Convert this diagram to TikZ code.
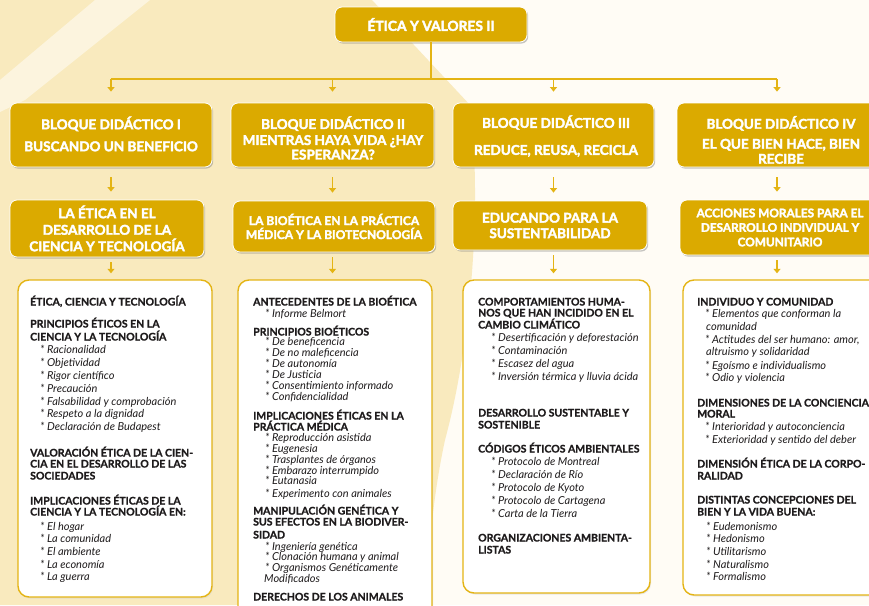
\documentclass[tikz,border=0pt]{standalone}
\usepackage{fontspec}
\setmainfont{Lato}
\newfontfamily\heavyfont{Lato}[BoldFeatures={FakeBold=2.6}]
\newfontfamily\headfont{Lato}[BoldFeatures={FakeBold=1.0}]
\usetikzlibrary{shadows,arrows.meta}
\definecolor{gold}{RGB}{219,170,0}
\definecolor{goldline}{RGB}{228,180,20}
\definecolor{beige}{RGB}{249,234,190}
\definecolor{cream}{RGB}{255,252,245}
\definecolor{ink}{RGB}{30,27,28}
\tikzset{
  goldbox/.style={draw=white, line width=0.8pt, fill=gold, rounded corners=7pt, text=white,
    align=center, inner sep=2pt,
    drop shadow={shadow xshift=1.2pt, shadow yshift=-1.6pt, fill=black!50, opacity=0.45}},
  goldtext/.style={text=white, align=center, inner sep=0pt},
  whitebox/.style={draw=goldline, line width=1.4pt, fill=white, rounded corners=11pt,
    drop shadow={shadow xshift=1pt, shadow yshift=-1.5pt, fill=black!20, opacity=0.4}},
  conn/.style={draw=goldline, line width=1.1pt},
  arr/.style={conn, -{Triangle[length=4.5pt,width=7pt]}},
  hd/.style={anchor=base west, inner sep=0pt, yshift=-3.5pt, text=ink,
    font=\headfont\bfseries\fontsize{10.5}{12}\selectfont},
  it/.style={anchor=base west, inner sep=0pt, yshift=-3.5pt, text=ink,
    font=\itshape\fontsize{11}{12}\selectfont},
  rowa/.style={font=\heavyfont\bfseries\fontsize{13.5}{16}\selectfont},
}
\begin{document}
\begin{tikzpicture}[x=1pt,y=-1pt]
\useasboundingbox (0,0) rectangle (869,605);
% background
\fill[cream] (0,0) rectangle (869,605);
\fill[beige] (0,0) -- (372,0) -- (470,105) .. controls (482,200) and (472,340) .. (445,440)
  .. controls (432,500) and (428,560) .. (425,605) -- (0,605) -- cycle;
\fill[white, opacity=0.5] (95,0) -- (150,0) -- (25,100) -- (0,112) -- (0,80) -- cycle;

% title
\node[goldbox, minimum width=192pt, minimum height=35pt,
  font=\heavyfont\bfseries\fontsize{13.8}{16}\selectfont] (title) at (431,24.5) {ÉTICA Y VALORES II};

% row 1
\node[goldbox, minimum width=202pt, minimum height=64pt] (b1) at (111,135) {};
\node[goldtext, rowa] (b1t) at (111,134) {BLOQUE DIDÁCTICO I\\[6pt]BUSCANDO UN BENEFICIO};
\node[goldbox, minimum width=203pt, minimum height=64pt] (b2) at (332.5,135) {};
\node[goldtext, rowa] (b2t) at (333,138) {BLOQUE DIDÁCTICO II\\[0pt]MIENTRAS HAYA VIDA ¿HAY\\[-1.5pt]ESPERANZA?};
\node[goldbox, minimum width=201pt, minimum height=64pt] (b3) at (553.5,135) {};
\node[goldtext, rowa] (b3t) at (556,136) {BLOQUE DIDÁCTICO III\\[11pt]REDUCE, REUSA, RECICLA};
\node[goldbox, minimum width=200pt, minimum height=64pt] (b4) at (777,135) {};
\node[goldtext, rowa] (b4t) at (781,140) {BLOQUE DIDÁCTICO IV\\[4pt]EL QUE BIEN HACE, BIEN\\[-1pt]RECIBE};

% row 2
\node[goldbox, font=\heavyfont\bfseries\fontsize{13.5}{16.5}\selectfont, minimum width=194pt, minimum height=57pt] (c1) at (107,228.5)
  {LA ÉTICA EN EL\\DESARROLLO DE LA\\CIENCIA Y TECNOLOGÍA};
\node[goldbox, font=\heavyfont\bfseries\fontsize{12}{14}\selectfont, minimum width=202pt, minimum height=51pt] (c2) at (334,226.5)
  {LA BIOÉTICA EN LA PRÁCTICA\\MÉDICA Y LA BIOTECNOLOGÍA};
\node[goldbox, font=\heavyfont\bfseries\fontsize{13.5}{15.5}\selectfont, minimum width=194pt, minimum height=49pt] (c3) at (550,225.5)
  {EDUCANDO PARA LA\\SUSTENTABILIDAD};
\node[goldbox, font=\heavyfont\bfseries\fontsize{11.8}{14.5}\selectfont, minimum width=200pt, minimum height=55pt] (c4) at (780,227.5)
  {ACCIONES MORALES PARA EL\\DESARROLLO INDIVIDUAL Y\\COMUNITARIO};

% content boxes
\node[whitebox, minimum width=194pt, minimum height=317pt] (d1) at (115,438.5) {};
\node[whitebox, minimum width=194pt, minimum height=340pt] (d2) at (335,450) {};
\node[whitebox, minimum width=187pt, minimum height=313pt] (d3) at (556.5,436.5) {};
\node[whitebox, minimum width=202pt, minimum height=315pt] (d4) at (784,437.5) {};

% connectors
\coordinate (hub) at (431,79);
\coordinate (hl) at (111,79);
\coordinate (hr) at (777,79);
\draw[conn] (title.south) -- (hub);
\draw[conn] (hl) -- (hr);
\foreach \b in {b1,b2,b3,b4}{
  \draw[arr, shorten >=11pt] (hub -| \b.north) -- (\b.north);
}
\foreach \b/\c/\d in {b1/c1/d1,b2/c2/d2,b3/c3/d3,b4/c4/d4}{
  \draw[arr, shorten <=10pt, shorten >=8pt] (\b.south) -- (\b.south |- \c.north);
  \draw[arr, shorten <=5pt, shorten >=6pt] (\b.south |- \c.south) -- (\b.south |- \d.north);
}

% texts box 1
\foreach \x/\y/\s/\t [count=\n] in {
 30/302/hd/{ÉTICA, CIENCIA Y TECNOLOGÍA},
 30/324/hd/{PRINCIPIOS ÉTICOS EN LA},
 30/337/hd/{CIENCIA Y LA TECNOLOGÍA},
 40/350/it/{* Racionalidad},
 40/363/it/{* Objetividad},
 40/376/it/{* Rigor científico},
 40/389/it/{* Precaución},
 40/402/it/{* Falsabilidad y comprobación},
 40/414/it/{* Respeto a la dignidad},
 40/427/it/{* Declaración de Budapest},
 30/453/hd/{VALORACIÓN ÉTICA DE LA CIEN-},
 30/464/hd/{CIA EN EL DESARROLLO DE LAS},
 30/476/hd/{SOCIEDADES},
 30/501/hd/{IMPLICACIONES ÉTICAS DE LA},
 30/512/hd/{CIENCIA Y LA TECNOLOGÍA EN:},
 40/527/it/{* El hogar},
 40/539/it/{* La comunidad},
 40/552/it/{* El ambiente},
 40/565/it/{* La economía},
 40/577/it/{* La guerra}}
 { \node[\s] (ta\n) at (\x,\y) {\t}; }

% texts box 2
\foreach \x/\y/\s/\t [count=\n] in {
 253/302/hd/{ANTECEDENTES DE LA BIOÉTICA},
 265/314/it/{* Informe Belmort},
 253/332/hd/{PRINCIPIOS BIOÉTICOS},
 265/342/it/{* De beneficencia},
 265/353/it/{* De no maleficencia},
 265/364/it/{* De autonomía},
 265/375/it/{* De Justicia},
 265/386/it/{* Consentimiento informado},
 265/397/it/{* Confidencialidad},
 253/416/hd/{IMPLICACIONES ÉTICAS EN LA},
 253/427/hd/{PRÁCTICA MÉDICA},
 265/438/it/{* Reproducción asistida},
 265/449/it/{* Eugenesia},
 265/460/it/{* Trasplantes de órganos},
 265/471/it/{* Embarazo interrumpido},
 265/481/it/{* Eutanasia},
 265/494/it/{* Experimento con animales},
 253/511/hd/{MANIPULACIÓN GENÉTICA Y},
 253/522/hd/{SUS EFECTOS EN LA BIODIVER-},
 253/535/hd/{SIDAD},
 265/547/it/{* Ingeniería genética},
 265/557/it/{* Clonación humana y animal},
 265/568/it/{* Organismos Genéticamente},
 264/579/it/{Modificados},
 253/597/hd/{DERECHOS DE LOS ANIMALES}}
 { \node[\s] (tb\n) at (\x,\y) {\t}; }

% texts box 3
\foreach \x/\y/\s/\t [count=\n] in {
 478/302/hd/{COMPORTAMIENTOS HUMA-},
 478/313/hd/{NOS QUE HAN INCIDIDO EN EL},
 478/325/hd/{CAMBIO CLIMÁTICO},
 491/338/it/{* Desertificación y deforestación},
 491/351/it/{* Contaminación},
 491/364/it/{* Escasez del agua},
 491/377/it/{* Inversión térmica y lluvia ácida},
 478/413/hd/{DESARROLLO SUSTENTABLE Y},
 478/425/hd/{SOSTENIBLE},
 478/449/hd/{CÓDIGOS ÉTICOS AMBIENTALES},
 491/462/it/{* Protocolo de Montreal},
 491/475/it/{* Declaración de Río},
 491/488/it/{* Protocolo de Kyoto},
 491/501/it/{* Protocolo de Cartagena},
 491/514/it/{* Carta de la Tierra},
 478/538/hd/{ORGANIZACIONES AMBIENTA-},
 478/550/hd/{LISTAS}}
 { \node[\s] (tc\n) at (\x,\y) {\t}; }

% texts box 4
\foreach \x/\y/\s/\t [count=\n] in {
 697/302/hd/{INDIVIDUO Y COMUNIDAD},
 705/314/it/{* Elementos que conforman la},
 706/327/it/{comunidad},
 705/340/it/{* Actitudes del ser humano: amor,},
 706/352/it/{altruismo y solidaridad},
 705/366/it/{* Egoísmo e individualismo},
 705/378/it/{* Odio y violencia},
 697/403/hd/{DIMENSIONES DE LA CONCIENCIA},
 697/414/hd/{MORAL},
 705/427/it/{* Interioridad y autoconciencia},
 705/440/it/{* Exterioridad y sentido del deber},
 697/464/hd/{DIMENSIÓN ÉTICA DE LA CORPO-},
 697/476/hd/{RALIDAD},
 697/500/hd/{DISTINTAS CONCEPCIONES DEL},
 697/512/hd/{BIEN Y LA VIDA BUENA:},
 706/527/it/{* Eudemonismo},
 706/539/it/{* Hedonismo},
 706/552/it/{* Utilitarismo},
 706/565/it/{* Naturalismo},
 706/577/it/{* Formalismo}}
 { \node[\s] (td\n) at (\x,\y) {\t}; }
\end{tikzpicture}
\end{document}
